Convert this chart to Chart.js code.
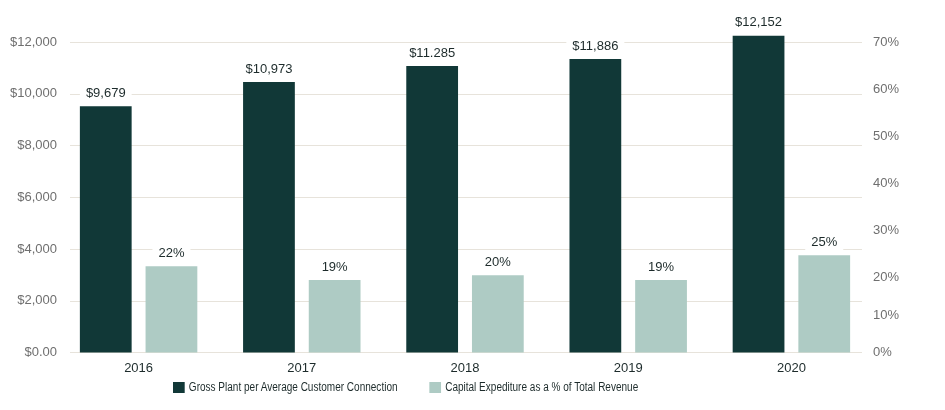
<!DOCTYPE html>
<html>
<head>
<meta charset="utf-8">
<script src="https://cdn.jsdelivr.net/npm/chart.js@4.4.1/dist/chart.umd.min.js"></script>
<style>
  html, body { margin: 0; padding: 0; background: #fff; }
  #wrap { position: relative; width: 945px; height: 410px; }
  #legend {
    position: absolute; top: 380px; left: 173px;
    display: flex; align-items: center; white-space: nowrap;
    font-family: "Liberation Sans", Arial, sans-serif; font-size: 12px; color: #1d2b2b;
    transform: scaleX(0.835); transform-origin: 0 0;
  }
  #legend .item { display: flex; align-items: center; margin-right: 38px; }
  #legend .box { width: 14px; height: 11px; margin-right: 5px; }
</style>
</head>
<body>
<div id="wrap">
  <canvas id="chart" width="945" height="410"></canvas>
  <div id="legend"></div>
</div>
<script>
const years = ['2016', '2017', '2018', '2019', '2020'];

// bar heights as drawn, and the value labels printed above them
const grossPlant = [9520, 10450, 11070, 11340, 12240];
const grossPlantLabels = ['$9,679', '$10,973', '$11.285', '$11,886', '$12,152'];

const capexPct = [19.4, 16.3, 17.4, 16.3, 21.9];
const capexLabels = ['22%', '19%', '20%', '19%', '25%'];

const leftTicks = [0, 2000, 4000, 6000, 8000, 10000, 12000];
const leftTickLabels = ['$0.00', '$2,000', '$4,000', '$6,000', '$8,000', '$10,000', '$12,000'];

// the right axis labels are not evenly spaced in the original
const rightTicks = [0, 8.4, 16.9, 27.4, 38.2, 48.6, 59.2, 70];
const rightTickLabels = ['0%', '10%', '20%', '30%', '40%', '50%', '60%', '70%'];

const seriesNames = ['Gross Plant per Average Customer Connection', 'Capital Expediture as a % of Total Revenue'];
const colors = ['#113837', '#aecbc4'];

const FONT = '"Liberation Sans", Arial, sans-serif';

const gridPlugin = {
    id: 'insetGrid',
    beforeDatasetsDraw(chart) {
        const { ctx, chartArea, scales } = chart;
        ctx.save();
        ctx.strokeStyle = '#e7e3db';
        ctx.lineWidth = 1;
        leftTicks.forEach(v => {
            const y = Math.round(scales.y.getPixelForValue(v)) + 0.5;
            ctx.beginPath();
            ctx.moveTo(chartArea.left + 13, y);
            ctx.lineTo(chartArea.right - 11, y);
            ctx.stroke();
        });
        ctx.restore();
    },
};

const labelPlugin = {
    id: 'valueLabels',
    afterDatasetsDraw(chart) {
        const { ctx } = chart;
        const allLabels = [grossPlantLabels, capexLabels];
        ctx.save();
        ctx.font = '13px ' + FONT;
        ctx.textAlign = 'center';
        ctx.textBaseline = 'middle';
        chart.data.datasets.forEach((ds, i) => {
            chart.getDatasetMeta(i).data.forEach((bar, j) => {
                const text = allLabels[i][j];
                const y = bar.y - 13;
                const w = ctx.measureText(text).width + 12;
                ctx.fillStyle = '#ffffff';
                ctx.fillRect(bar.x - w / 2, y - 10, w, 20);
                ctx.fillStyle = '#1d2b2b';
                ctx.fillText(text, bar.x, y);
            });
        });
        ctx.restore();
    },
};

new Chart(document.getElementById('chart'), {
    type: 'bar',
    data: {
        labels: years,
        datasets: [
            {
                label: seriesNames[0],
                data: grossPlant,
                backgroundColor: colors[0],
                yAxisID: 'y',
                clip: false,
            },
            {
                label: seriesNames[1],
                data: capexPct,
                backgroundColor: colors[1],
                yAxisID: 'y2',
                clip: false,
            },
        ],
    },
    options: {
        responsive: false,
        animation: false,
        categoryPercentage: 0.805,
        barPercentage: 0.788,
        layout: { padding: { top: 42, bottom: 26, left: 0, right: 0 } },
        plugins: {
            legend: { display: false },
            tooltip: { enabled: false },
        },
        scales: {
            x: {
                grid: { display: false, drawTicks: false },
                border: { display: false },
                ticks: { color: '#1d2b2b', font: { family: FONT, size: 13 }, padding: 8 },
            },
            y: {
                position: 'left',
                min: 0,
                max: 12000,
                grid: { display: false, drawTicks: false },
                border: { display: false },
                afterBuildTicks(scale) { scale.ticks = leftTicks.map(v => ({ value: v })); },
                afterFit(scale) { scale.width = 57; },
                ticks: {
                    color: '#6f6f6f',
                    font: { family: FONT, size: 13 },
                    padding: 0,
                    callback: (v, i) => leftTickLabels[i],
                },
            },
            y2: {
                position: 'right',
                min: 0,
                max: 70,
                grid: { display: false, drawTicks: false },
                border: { display: false },
                afterBuildTicks(scale) { scale.ticks = rightTicks.map(v => ({ value: v })); },
                afterFit(scale) { scale.width = 72; },
                ticks: {
                    color: '#6f6f6f',
                    font: { family: FONT, size: 13 },
                    padding: 0,
                    callback: (v, i) => rightTickLabels[i],
                },
            },
        },
    },
    plugins: [gridPlugin, labelPlugin],
});

const legend = document.getElementById('legend');
seriesNames.forEach((name, i) => {
    const item = document.createElement('div');
    item.className = 'item';
    item.innerHTML = '<span class="box" style="background:' + colors[i] + '"></span><span>' + name + '</span>';
    legend.appendChild(item);
});
</script>
</body>
</html>
